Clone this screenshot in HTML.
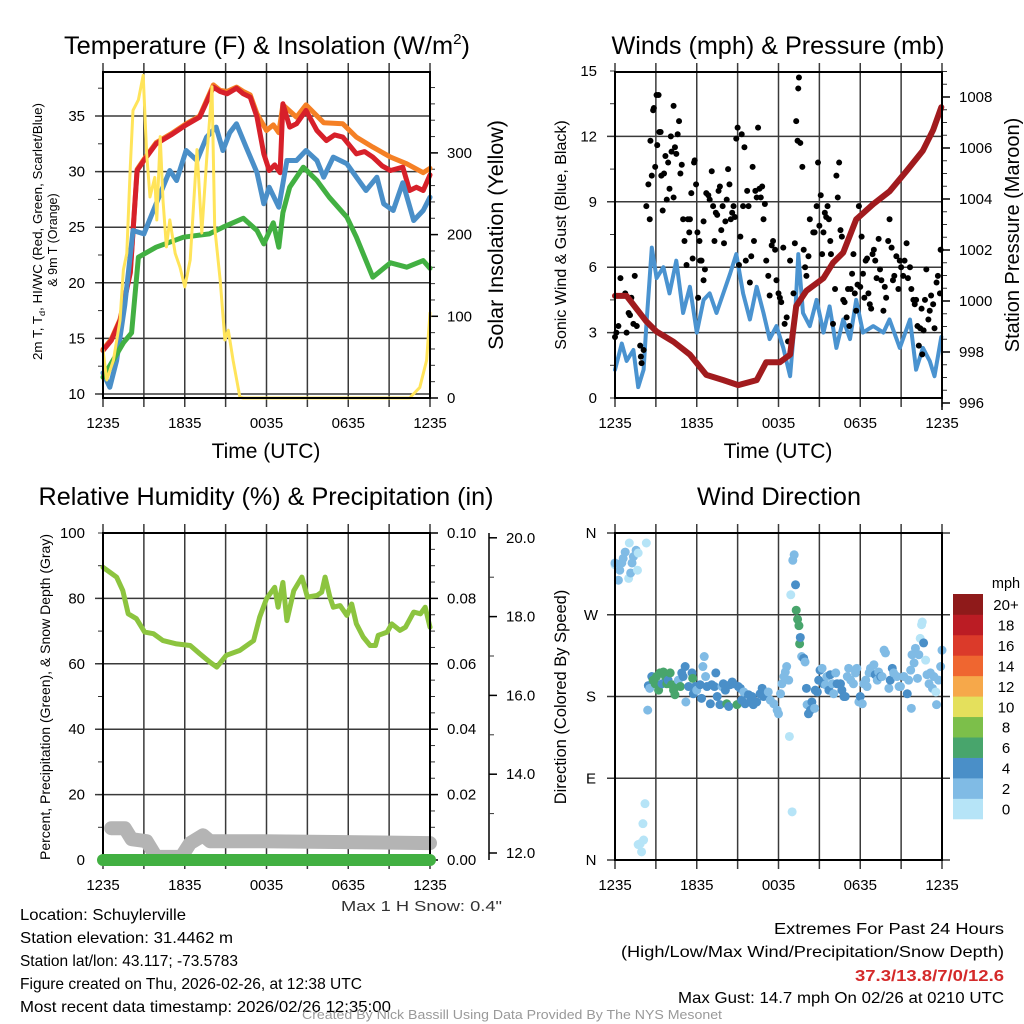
<!DOCTYPE html>
<html><head><meta charset="utf-8"><title>Schuylerville meteogram</title>
<style>
html,body{margin:0;padding:0;background:#fff;}
svg{display:block;font-family:"Liberation Sans",sans-serif;}
</style></head>
<body>
<svg id="chart" width="1024" height="1024" viewBox="0 0 1024 1024" xmlns="http://www.w3.org/2000/svg">
<rect x="0" y="0" width="1024" height="1024" fill="#fff"/>
<text x="64" y="54" font-size="25" textLength="406" lengthAdjust="spacingAndGlyphs">Temperature (F) &amp; Insolation (W/m<tspan dy="-10" font-size="15">2</tspan><tspan dy="10">)</tspan></text>
<text x="778" y="54" font-size="25" text-anchor="middle" textLength="333" lengthAdjust="spacingAndGlyphs">Winds (mph) &amp; Pressure (mb)</text>
<text x="266" y="505" font-size="25" text-anchor="middle" textLength="455" lengthAdjust="spacingAndGlyphs">Relative Humidity (%) &amp; Precipitation (in)</text>
<text x="779" y="505" font-size="25" text-anchor="middle" textLength="164" lengthAdjust="spacingAndGlyphs">Wind Direction</text>
<text x="266" y="458" font-size="21" text-anchor="middle">Time (UTC)</text>
<text x="778" y="458" font-size="21" text-anchor="middle">Time (UTC)</text>
<text transform="translate(42,360) rotate(-90)" font-size="12.5" textLength="257" lengthAdjust="spacingAndGlyphs">2m T, T<tspan dy="3" font-size="8.5">d</tspan><tspan dy="-3">, HI/WC (Red, Green, Scarlet/Blue)</tspan></text>
<text transform="translate(57,240) rotate(-90)" font-size="12.5" text-anchor="middle">&amp; 9m T (Orange)</text>
<text transform="translate(503,235) rotate(-90)" font-size="21.5" text-anchor="middle">Solar Insolation (Yellow)</text>
<text transform="translate(566,235) rotate(-90)" font-size="16" text-anchor="middle">Sonic Wind &amp; Gust (Blue, Black)</text>
<text transform="translate(1019,235) rotate(-90)" font-size="20" text-anchor="middle">Station Pressure (Maroon)</text>
<text transform="translate(50,697) rotate(-90)" font-size="14" text-anchor="middle">Percent, Precipitation (Green), &amp; Snow Depth (Gray)</text>
<text transform="translate(566,697) rotate(-90)" font-size="16.5" text-anchor="middle">Direction (Colored By Speed)</text>
<text x="341" y="911" font-size="15" textLength="161" lengthAdjust="spacingAndGlyphs" fill="#333">Max 1 H Snow: 0.4"</text>
<g font-size="16">
<text x="20" y="920" textLength="166" lengthAdjust="spacingAndGlyphs">Location: Schuylerville</text>
<text x="20" y="943" textLength="213" lengthAdjust="spacingAndGlyphs">Station elevation: 31.4462 m</text>
<text x="20" y="966" textLength="218" lengthAdjust="spacingAndGlyphs">Station lat/lon: 43.117; -73.5783</text>
<text x="20" y="989" textLength="342" lengthAdjust="spacingAndGlyphs">Figure created on Thu, 2026-02-26, at 12:38 UTC</text>
<text x="20" y="1012" textLength="371" lengthAdjust="spacingAndGlyphs">Most recent data timestamp: 2026/02/26 12:35:00</text>
</g>
<g font-size="16">
<text x="774" y="934" textLength="230" lengthAdjust="spacingAndGlyphs">Extremes For Past 24 Hours</text>
<text x="621" y="957" textLength="383" lengthAdjust="spacingAndGlyphs">(High/Low/Max Wind/Precipitation/Snow Depth)</text>
<text x="855" y="981" textLength="149" lengthAdjust="spacingAndGlyphs" fill="#d42a2a" font-weight="bold">37.3/13.8/7/0/12.6</text>
<text x="678" y="1003" textLength="326" lengthAdjust="spacingAndGlyphs">Max Gust: 14.7 mph On 02/26 at 0210 UTC</text>
</g>
<text x="302" y="1019" font-size="12.5" textLength="420" lengthAdjust="spacingAndGlyphs" fill="#999">Created By Nick Bassill Using Data Provided By The NYS Mesonet</text>
<text x="1006" y="588" font-size="14.5" text-anchor="middle">mph</text>
</svg>
<script>
// ---------- data ----------
const xTickLabels = ['1235','1835','0035','0635','1235'];
const tempTicks = [10,15,20,25,30,35];
const insolTicks = [0,100,200,300];
const windTicks = [0,3,6,9,12,15];
const pressTicks = [996,998,1000,1002,1004,1006,1008];
const rhTicks = [0,20,40,60,80,100];
const precipTicks = [0,0.02,0.04,0.06,0.08,0.10];
const snowTicks = [12,14,16,18,20];
const dirTicks = [0,90,180,270,360];
const dirLabels = ['N','E','S','W','N'];
const speedBins = ['0','2','4','6','8','10','12','14','16','18','20+'];
const speedColors = ['#b6e4f7','#80bbe5','#4a8fc8','#48a56c','#7cbf4a','#e4e05c','#f6a84a','#ef6630','#db3a2a','#bb1c24','#8f1a1a'];

const redH = [0,0.6,1.25,2,2.5,3,3.9,5,6.1,7.1,8.1,8.6,9.1,9.8,10.3,10.8,11.3,11.8,12.2,12.6,13,13.2,13.7,14.2,14.9,15.7,16.4,17,17.6,18.6,19.2,19.8,20.5,21.1,22,22.5,23,23.5,24];
const redT = [13.9,14.8,16.6,20.9,30.1,31,32.5,33.3,34.2,34.9,37.6,37.2,37,37.5,37,36.7,34.9,31.6,30.1,30.6,29.9,36.1,34,34.3,35.5,33.7,32.8,33.3,33.1,31.6,31.8,31.3,30.5,30.1,30.4,28.3,28.6,28.3,29.7];
const orangeH = [0,0.6,1.25,2,2.5,3,3.9,5,6.1,7.1,8.1,8.6,9.1,9.8,10.3,10.8,11.3,12,12.5,12.9,13.2,14.2,14.9,16.2,17.6,18.6,19.8,21.1,22.3,23.5,24];
const orangeT = [14,14.9,16.7,21,30.2,31.1,32.6,33.4,34.3,35,37.8,37.3,37.2,37.6,37.2,36.9,35.2,33.7,34.2,33.5,36,34.9,36,34.4,34.3,33.1,32.2,31.3,30.7,29.9,30.3];
const blueH = [0,0.5,1,1.6,2.2,3,3.9,4.9,5.4,6.1,6.9,7.6,8.3,8.8,9.3,9.8,10.5,11.3,11.8,12.2,12.9,13.5,14.2,14.9,15.7,16.2,16.9,17.9,18.6,19.3,20.1,20.6,21.3,22,22.8,23.5,24];
const blueT = [11.9,10.6,13,18,24.7,24.4,27.1,30.1,29.2,31.9,31,33.1,34,31.9,33.5,34.3,32.2,29.9,27.1,28.6,26.8,31,31,31.9,31,29.5,31.3,30.7,29.5,28.3,29.5,27.1,26.5,29,25.6,26.5,27.7];
const greenH = [0,1.5,2.1,2.6,3.9,5.9,7.8,8.8,10.3,11.3,11.8,12.5,12.9,13.2,13.7,14.7,15.7,16.6,17.9,18.6,19.8,21.1,22.3,23.5,24];
const greenT = [11.5,14.6,15.5,22.3,23.2,24.1,24.4,25,25.8,24.7,23.5,25.4,23.2,26.3,28.6,30.4,29.2,27.7,25.9,24.1,20.5,21.8,21.4,22,21.3];
const insolH = [0,0.27,0.76,1.25,1.5,1.75,2,2.2,2.6,2.95,3.2,3.45,3.8,3.95,4.2,4.4,4.65,4.9,5.3,5.65,6,6.4,6.9,7.25,7.6,8,8.2,8.6,8.95,9.2,9.55,10.05,10.3,22.5,23.25,23.75,24];
const insolW = [59,22,46,95,157,177,283,352,365,395,300,246,270,218,320,242,185,218,177,160,136,169,304,202,291,381,209,144,71,83,46,1,0,0,13,46,104];

const windH = [0,0.5,0.85,1.35,1.7,2.1,2.3,2.7,3.05,3.55,4,4.5,5,5.5,6,6.5,6.95,7.45,7.95,8.45,8.9,9.4,9.9,10.4,10.9,11.35,11.85,12.35,12.85,13.2,13.45,13.8,14.3,14.8,15.3,15.75,16.25,16.75,17.25,17.7,18.2,18.95,19.7,20.15,20.9,21.65,22.1,22.6,23.1,23.45,23.95];
const windV = [1.3,2.5,1.7,2.2,0.5,1.3,3.3,6.9,5.5,6,4.8,6.3,3.9,5.1,3,4.5,4.8,3.9,4.8,5.7,6.6,4.8,3.6,5.1,3.9,2.7,3.3,2.3,1,3.6,6.6,3.9,3.3,4.5,3,4.2,2.3,3.6,2.7,4.5,3,3.3,3,3.6,2.3,3.6,1.3,2.3,1.7,1,2.8];
const pressH = [0,0.85,2.3,3.05,4.3,5.5,6.7,7.95,9.05,10.4,11.1,12.1,12.85,13.3,14.05,15.3,16,16.75,17.7,18.95,20.15,21.4,22.6,23.35,23.95];
const pressMb = [1000.2,1000.2,999.2,998.8,998.4,997.9,997.1,996.9,996.7,996.9,997.6,997.6,997.9,999.8,1000.4,1000.9,1001.5,1001.9,1003.2,1003.8,1004.3,1005.1,1005.9,1006.7,1007.6];
const gustH = [0,0.1,0.25,0.4,0.75,0.85,1.0,1.1,1.2,1.35,1.45,1.6,1.85,1.9,1.95,2.1,2.3,2.45,2.55,2.6,2.7,2.8,2.85,2.95,3.05,3.1,3.2,3.25,3.35,3.4,3.5,3.6,3.7,3.8,3.9,4.0,4.1,4.15,4.3,4.3,4.4,4.5,4.6,4.7,4.8,4.9,5.0,5.1,5.25,5.35,5.45,5.5,5.6,5.7,5.8,5.85,5.95,6.05,6.1,6.2,6.25,6.35,6.5,6.5,6.6,6.7,6.85,6.95,7.1,7.2,7.3,7.4,7.5,7.6,7.7,7.8,7.9,8.0,8.1,8.2,8.3,8.4,8.5,8.6,8.7,8.8,8.9,9.0,9.1,9.2,9.3,9.4,9.5,9.6,9.7,9.8,9.9,10.0,10.1,10.2,10.3,10.4,10.5,10.6,10.7,10.8,10.9,11.0,11.1,11.25,11.35,11.5,11.6,11.75,11.85,12.0,12.1,12.2,12.35,12.45,12.6,12.7,12.85,13.1,13.2,13.3,13.4,13.45,13.5,13.6,13.75,13.85,13.95,14.05,14.2,14.3,14.55,14.65,14.8,14.9,15.0,15.1,15.2,15.3,15.4,15.5,15.6,15.7,15.8,15.85,16.0,16.15,16.25,16.35,16.45,16.55,16.65,16.75,16.85,17.0,17.1,17.2,17.3,17.4,17.5,17.6,17.7,17.8,17.9,18.0,18.1,18.2,18.3,18.4,18.5,18.6,18.7,18.8,18.9,19.0,19.1,19.2,19.35,19.45,19.55,19.7,19.8,19.9,20.05,20.15,20.3,20.4,20.5,20.65,20.8,20.9,21.0,21.15,21.25,21.4,21.5,21.65,21.75,21.9,22.0,22.1,22.2,22.3,22.4,22.5,22.55,22.65,22.75,22.85,23.0,23.1,23.2,23.35,23.45,23.6,23.7,23.85,23.9];
const gustV = [2.8,3.0,3.3,5.5,4.8,3.0,3.9,3.8,4.6,3.4,5.6,3.3,2.4,1.9,1.6,2.2,8.8,9.8,8.2,11.8,10.2,13.2,13.3,10.6,13.9,11.6,13.9,12.2,12.2,10.2,8.6,10.3,11.1,9.1,10.8,9.6,12.0,11.3,13.4,9.2,11.5,11.2,12.1,12.7,10.3,10.7,8.2,7.2,6.1,8.2,7.6,8.2,9.4,6.4,10.8,10.9,9.8,7.6,4.6,7.2,6.3,6.3,8.1,5.4,5.9,9.4,9.3,9.1,10.4,8.8,7.2,8.5,8.4,9.5,9.7,7.7,8.8,7.1,8.1,9.1,10.5,9.8,8.2,8.5,8.8,8.3,11.9,12.4,6.1,7.4,12.1,8.8,11.5,6.3,9.5,8.8,5.3,6.5,10.6,7.2,9.5,9.2,12.4,9.6,9.2,9.7,8.2,8.9,6.3,5.6,4.7,7.0,7.2,6.8,5.4,4.8,4.6,4.4,6.9,3.4,3.7,2.6,6.3,4.8,7.1,12.7,11.8,14.2,14.7,11.7,10.6,6.8,6.0,5.6,6.5,8.2,7.6,7.6,8.8,10.8,7.9,9.3,6.6,7.6,8.5,8.3,8.8,8.2,7.2,6.6,3.4,5.0,10.2,9.2,10.8,7.7,7.4,4.5,4.4,3.7,5.0,3.3,5.0,5.7,6.6,4.8,4.0,5.2,8.8,5.1,7.4,5.7,4.6,6.3,6.4,4.8,4.3,4.1,6.6,6.8,6.3,5.5,7.3,5.9,5.4,4.0,5.1,4.6,7.2,8.2,6.9,5.4,5.6,6.5,5.0,6.3,6.0,5.6,6.3,7.1,5.5,6.0,5.0,4.5,4.3,4.5,3.3,2.4,3.2,4.1,2.0,3.1,4.5,5.9,3.6,4.0,4.7,4.3,3.2,5.3,5.6,4.8,6.8];

const rhH = [0,0.5,1,1.45,1.85,2.45,3.05,3.7,4.4,5.4,6.4,7.1,7.85,8.35,9.05,10.05,11.05,11.5,12,12.6,12.85,13.2,13.5,14,14.6,15,15.7,16.05,16.3,16.65,16.9,17.4,17.9,18.25,18.6,19.1,19.6,20,20.2,20.85,21.2,21.8,22.2,22.8,23.3,23.65,24];
const rhPct = [89.5,88,86.5,82.4,75.3,73.8,69.7,69.2,67.1,66.1,65.6,63.1,60.5,59,62.6,64.1,67.1,74.3,79.9,83.4,77.3,84.9,73.2,82.4,86.5,80.4,80.9,81.9,86.5,80.4,77.3,77.8,74.8,78.3,72.2,68.2,65.6,65.6,68.7,69.7,72.2,70.2,71.2,75.8,75.3,77.3,71.2];
const precipH = [0,24];
const precipIn = [0,0];
const snowH = [0.6,1.6,2.1,3.2,3.9,5.75,6.4,7.35,7.85,11.75,24];
const snowIn = [12.63,12.63,12.35,12.3,11.9,11.9,12.25,12.45,12.3,12.3,12.25];

const dirHours = [0,0,0.25,0.35,0.5,0.6,0.75,1,1.05,1.15,1.25,1.35,1.55,1.65,1.7,2.3,2.4,2.45,2.55,2.7,2.8,2.95,3.05,3.2,3.3,3.45,3.55,3.7,3.8,3.9,4.05,4.15,4.3,4.4,4.55,4.65,4.8,4.9,5.0,5.15,5.2,5.4,5.65,5.7,5.75,5.9,6.0,6.25,6.35,6.45,6.55,6.65,6.75,7.0,7.1,7.3,7.4,7.5,7.7,7.85,7.95,8.1,8.2,8.35,8.45,8.6,8.7,8.95,9.05,9.2,9.3,9.45,9.55,9.8,9.9,10.05,10.15,10.4,10.65,10.8,10.9,11.15,11.25,11.4,11.65,11.9,12.0,12.15,12.25,12.4,12.5,12.6,12.75,12.8,12.9,13.0,13.05,13.15,13.25,13.3,13.4,13.5,13.55,13.6,13.7,13.85,13.95,14.05,14.1,14.2,14.35,14.45,14.65,14.7,14.85,14.95,15.05,15.2,15.3,15.45,15.55,15.7,15.8,15.95,16.05,16.2,16.3,16.55,16.65,16.8,16.9,17.05,17.15,17.3,17.5,17.65,17.75,17.9,18.0,18.15,18.25,18.4,18.5,18.65,18.75,19.0,19.1,19.25,19.35,19.5,19.6,19.75,19.85,20.1,20.2,20.35,20.45,20.7,20.85,20.95,21.2,21.45,21.55,21.7,21.75,21.8,21.95,22.05,22.2,22.3,22.4,22.5,22.55,22.65,22.8,22.9,23.05,23.15,23.3,23.4,23.55,23.6,23.75,23.9,24,1.7,1.85,1.95,2.1,2.05,2.2];
const dirDeg = [325,327,308,319,327,332,339,310,349,316,327,334,341,319,338,349,165,192,189,202,198,194,202,187,206,194,207,202,194,198,206,193,187,182,194,198,191,206,202,213,174,191,206,200,183,191,187,193,178,213,224,202,191,172,193,191,206,180,171,191,194,187,172,169,193,196,194,171,191,189,176,185,172,182,174,180,171,174,183,189,180,183,185,176,172,165,161,183,194,202,207,213,198,136,292,53,330,336,303,275,265,258,238,245,224,222,218,189,171,161,165,174,167,187,185,198,209,211,194,193,202,187,204,194,183,206,194,194,187,180,180,202,211,198,194,206,211,174,180,172,194,198,191,206,211,215,204,198,207,202,202,231,228,189,198,211,206,202,191,191,202,183,198,209,167,226,217,233,200,226,244,259,262,239,220,204,194,206,189,202,185,171,198,213,231,17,18,9,22,40,62];
const dirSpeed = [1,3,3,3,3,3,3,1,1,3,3,3,3,1,1,1,3,5,3,5,7,7,7,7,7,5,7,7,7,5,7,7,7,7,7,3,7,5,5,5,3,5,5,7,5,5,3,5,5,3,3,3,5,5,5,5,5,5,5,3,5,5,7,5,5,5,5,7,5,5,5,3,5,5,5,5,5,5,5,5,5,5,3,3,3,3,3,3,3,3,3,3,3,1,1,1,3,3,5,7,7,7,7,5,3,5,3,5,3,5,5,5,3,5,5,5,5,3,5,3,3,5,5,3,3,3,5,5,5,5,5,3,3,3,3,3,3,3,5,3,3,3,3,3,3,3,5,3,3,5,3,3,3,3,5,5,3,3,3,3,3,5,3,3,3,3,3,3,3,3,1,1,1,5,1,3,3,3,3,3,1,3,3,3,3,1,1,1,1,1,1];

// ---------- helpers ----------
const NS = 'http://www.w3.org/2000/svg';
const svg = document.getElementById('chart');
function mk(tag, attrs, parent) {
  const e = document.createElementNS(NS, tag);
  for (const k in attrs) e.setAttribute(k, attrs[k]);
  (parent || svg).appendChild(e);
  return e;
}
const P1 = {x0:103, x1:430, y0:72, y1:398};
const P2 = {x0:615, x1:942, y0:72, y1:398};
const P3 = {x0:103, x1:430, y0:533, y1:860};
const P4 = {x0:615, x1:942, y0:533, y1:860};
function hx(P, h) { return P.x0 + h * (P.x1 - P.x0) / 24; }
const tY = t => 394 - (t - 10) * 11.12;
const sY = w => 398 - w * 0.817;
const wY = v => 398 - v * 21.8;
const pY = p => 403 - (p - 996) * 25.5;
const rY = r => 860 - r * 3.27;
const prY = p => 860 - p * 3270;
const snY = s => 853 - (s - 12) * 39.4;
const dY = d => 860 - d * 0.9083;

function pathD(P, hs, vs, f) {
  let d = '';
  for (let i = 0; i < hs.length; i++) d += (i ? 'L' : 'M') + hx(P, hs[i]).toFixed(1) + ',' + f(vs[i]).toFixed(1);
  return d;
}

function drawGrid(P, yVals, yF, key) {
  const g = mk('g', {});
  
  
  for (let i = 0; i <= 8; i++) {
    const x = P.x0 + i * (P.x1 - P.x0) / 8;
    const l = mk('line', {x1:x, x2:x, y1:P.y0 - 9, y2:P.y1 + 9, stroke:'#3a3a3a', 'stroke-width':1.5}, g);
    
    
  }
  for (const v of yVals) {
    const y = yF(v);
    const l = mk('line', {x1:P.x0 - 8, x2:P.x1, y1:y, y2:y, stroke:'#3a3a3a', 'stroke-width':1.5}, g);
    
    
  }
  for (let i = 0; i < xTickLabels.length; i++) {
    const t = mk('text', {x:P.x0 + i * (P.x1 - P.x0) / 4, y:P.y1 + 30, 'font-size':15, 'text-anchor':'middle'});
    t.textContent = xTickLabels[i];
    
    
  }
}
function drawFrame(P, key) {
  const r = mk('rect', {x:P.x0, y:P.y0, width:P.x1 - P.x0, height:P.y1 - P.y0, fill:'none', stroke:'#000', 'stroke-width':2});
  
  
}
function leftLabels(vals, labels, yF, xr, key) {
  for (let i = 0; i < vals.length; i++) {
    const t = mk('text', {x:xr, y:yF(vals[i]) + 5, 'font-size':15, 'text-anchor':'end'});
    t.textContent = labels[i];
    
    
  }
}
function rightAxis(xa, vals, labels, yF, minorStep, lo, hi, key) {
  for (let v = lo; v <= hi + 1e-9; v += minorStep) {
    const y = yF(v);
    const l = mk('line', {x1:xa, x2:xa + 5, y1:y, y2:y, stroke:'#333', 'stroke-width':1});
    
    
  }
  for (let i = 0; i < vals.length; i++) {
    const y = yF(vals[i]);
    const l = mk('line', {x1:xa, x2:xa + 8, y1:y, y2:y, stroke:'#000', 'stroke-width':1.5});
    
    
    const t = mk('text', {x:xa + 17, y:y + 5, 'font-size':15});
    t.textContent = labels[i];
    
    
  }
}
function line(P, hs, vs, f, color, w, name) {
  const p = mk('path', {d:pathD(P, hs, vs, f), fill:'none', stroke:color, 'stroke-width':w, 'stroke-linejoin':'round', 'stroke-linecap':'round'});
  
  
}
function speedColor(s) { return speedColors[Math.min(10, Math.floor(s / 2))]; }

// ---------- panel 1 ----------
drawGrid(P1, tempTicks, tY, 'temperature');
for (let t = 10; t <= 37.5; t += 2.5) {
  const l = mk('line', {x1:P1.x0 - 5, x2:P1.x0, y1:tY(t), y2:tY(t), stroke:'#333', 'stroke-width':1});
  
  
}
leftLabels(tempTicks, tempTicks.map(String), tY, 85, 'temperature');
rightAxis(P1.x1, insolTicks, insolTicks.map(String), sY, 20, 0, 380, 'insolation');
line(P1, orangeH, orangeT, tY, '#f58025', 5, 'temperature-9m-line');
line(P1, redH, redT, tY, '#d7202a', 5, 'temperature-2m-line');
line(P1, blueH, blueT, tY, '#4a8fc8', 5, 'windchill-line');
line(P1, greenH, greenT, tY, '#42b042', 5, 'dewpoint-line');
line(P1, insolH, insolW, sY, '#ffe45a', 3, 'insolation-line');
drawFrame(P1, 'temperature');

// ---------- panel 2 ----------
drawGrid(P2, windTicks.slice(1, 5), wY, 'winds');
for (let v = 0; v <= 15; v += 1.5) {
  const l = mk('line', {x1:P2.x0 - 5, x2:P2.x0, y1:wY(v), y2:wY(v), stroke:'#333', 'stroke-width':1});
  
  
}
leftLabels(windTicks, windTicks.map(String), wY, 597, 'wind');
const pAx = mk('line', {x1:P2.x1, x2:P2.x1, y1:P2.y0, y2:410, stroke:'#000', 'stroke-width':1.5});


rightAxis(P2.x1, pressTicks, pressTicks.map(String), pY, 0.5, 996, 1009, 'pressure');
line(P2, windH, windV, wY, '#4a93d0', 4, 'sustained-wind-line');
for (let i = 0; i < gustH.length; i++) {
  const c = mk('circle', {cx:hx(P2, gustH[i]), cy:wY(gustV[i]), r:3, fill:'#000'});
  
  
}
line(P2, pressH, pressMb, pY, '#a11b1e', 6, 'pressure-line');
drawFrame(P2, 'winds');

// ---------- panel 3 ----------
drawGrid(P3, rhTicks.slice(1, 5), rY, 'humidity');
for (let r = 0; r <= 100; r += 10) {
  const l = mk('line', {x1:P3.x0 - 5, x2:P3.x0, y1:rY(r), y2:rY(r), stroke:'#333', 'stroke-width':1});
  
  
}
leftLabels(rhTicks, rhTicks.map(String), rY, 85, 'humidity');
rightAxis(P3.x1, precipTicks, precipTicks.map(v => v.toFixed(2)), prY, 0.005, 0, 0.1, 'precip');
const sAx = mk('line', {x1:489, x2:489, y1:533, y2:860, stroke:'#000', 'stroke-width':1.5});


rightAxis(489, snowTicks, snowTicks.map(v => v.toFixed(1)), snY, 1, 12, 20, 'snow');
line(P3, snowH, snowIn, snY, '#b4b4b4', 14, 'snow-depth-line');
line(P3, rhH, rhPct, rY, '#8cc43f', 5, 'humidity-line');
drawFrame(P3, 'humidity');
line(P3, precipH, precipIn, prY, '#42b042', 12, 'precipitation-line');

// ---------- panel 4 ----------
drawGrid(P4, dirTicks, dY, 'direction');
for (const v of dirTicks) {
  const l = mk('line', {x1:P4.x1, x2:P4.x1 + 8, y1:dY(v), y2:dY(v), stroke:'#3a3a3a', 'stroke-width':1.5});
  
  
}
for (let i = 0; i < dirTicks.length; i++) {
  const t = mk('text', {x:591, y:dY(dirTicks[i]) + 5, 'font-size':15, 'text-anchor':'middle'});
  t.textContent = dirLabels[i];
  
  
}
for (let i = 0; i < dirHours.length; i++) {
  const c = mk('circle', {cx:hx(P4, dirHours[i]), cy:dY(dirDeg[i]), r:4.5, fill:speedColor(dirSpeed[i])});
  
  
}
drawFrame(P4, 'direction');

// colorbar
for (let i = 0; i < speedBins.length; i++) {
  const y = 594 + (10 - i) * 20.45;
  const r = mk('rect', {x:953, y:y, width:30, height:20.8, fill:speedColors[i]});
  
  
  const t = mk('text', {x:1006, y:y + 16, 'font-size':15, 'text-anchor':'middle'});
  t.textContent = speedBins[i];
  
  
}
</script>
</body></html>
